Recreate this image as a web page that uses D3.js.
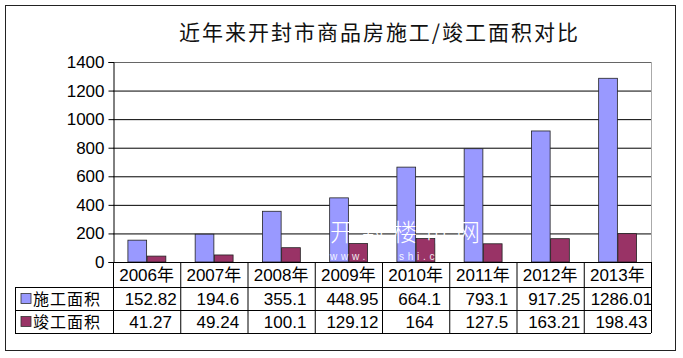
<!DOCTYPE html>
<html><head><meta charset="utf-8">
<script src="https://cdn.jsdelivr.net/npm/d3@7"></script>
<style>
html,body{margin:0;padding:0;background:#fff;}
svg{display:block;}
text{font-family:"Liberation Sans",Arial,"Noto Sans CJK SC",sans-serif;}
</style></head>
<body>
<script>
const title = "近年来开封市商品房施工/竣工面积对比";
const categories = ["2006年","2007年","2008年","2009年","2010年","2011年","2012年","2013年"];
const seriesNames = ["施工面积","竣工面积"];
const construction = [152.82,194.6,355.1,448.95,664.1,793.1,917.25,1286.01];
const completion = [41.27,49.24,100.1,129.12,164,127.5,163.21,198.43];
const constructionLabels = ["152.82","194.6","355.1","448.95","664.1","793.1","917.25","1286.01"];
const completionLabels = ["41.27","49.24","100.1","129.12","164","127.5","163.21","198.43"];
const yTicks = [0,200,400,600,800,1000,1200,1400];
const colors = ["#9999FF","#993366"];

const W = 683, H = 358;
const svg = d3.select("body").append("svg").attr("width", W).attr("height", H);

const plot = {left:113, right:651, top:62, bottom:262};
const x = d3.scaleBand().domain(categories).range([plot.left, plot.right]).paddingInner(0).paddingOuter(0);
const y = d3.scaleLinear().domain([0,1400]).range([plot.bottom, plot.top]);
const xs = d3.scaleBand().domain(seriesNames).range([0, x.bandwidth()]).paddingInner(0).paddingOuter(0.75);

// outer border
svg.append("rect").attr("x",5.5).attr("y",5.5).attr("width",670).attr("height",345)
  .attr("fill","none").attr("stroke","#222").attr("stroke-width",1);

// title
svg.append("text").attr("x",179).attr("y",40).attr("textLength",399).attr("lengthAdjust","spacing")
  .style("font-family","'Noto Sans CJK SC',sans-serif").style("font-size","21px").attr("fill","#111")
  .text(title);

// plot border right
svg.append("line").attr("x1",plot.right+0.5).attr("x2",plot.right+0.5).attr("y1",plot.top).attr("y2",plot.bottom)
  .attr("stroke","#aaa");
// gridlines
const grid = svg.append("g").attr("transform",`translate(${plot.left},0)`)
  .call(d3.axisLeft(y).tickValues(yTicks.slice(1)).tickSize(-(plot.right-plot.left)).tickFormat(""));
grid.select(".domain").remove();
grid.selectAll(".tick line").attr("stroke", d => d===1400 ? "#666" : "#000").attr("stroke-width",1);

// bars
const data = categories.map((c,i)=>({c, vals:[construction[i], completion[i]]}));
const groups = svg.append("g").selectAll("g").data(data).join("g")
  .attr("transform", d=>`translate(${x(d.c)},0)`);
groups.selectAll("rect").data(d=>d.vals.map((v,j)=>({v, s:seriesNames[j], j}))).join("rect")
  .attr("x", d=>xs(d.s)+0.5).attr("width", xs.bandwidth()-0.5)
  .attr("y", d=>y(d.v)).attr("height", d=>y(0)-y(d.v))
  .attr("fill", d=>colors[d.j]).attr("stroke","#222").attr("stroke-width",0.8);

// y axis
const yAxis = svg.append("g").attr("transform",`translate(${plot.left+0.5},0)`)
  .call(d3.axisLeft(y).tickValues(yTicks).tickSize(5).tickPadding(4).tickFormat(d3.format("d")));
yAxis.select(".domain").attr("stroke","#000");
yAxis.selectAll(".tick line").attr("stroke","#000");
yAxis.selectAll(".tick text").style("font-size","17px").attr("fill","#000");
svg.append("line").attr("x1",plot.left).attr("x2",plot.right).attr("y1",plot.bottom+0.5).attr("y2",plot.bottom+0.5).attr("stroke","#000");

// watermark
const wm = svg.append("g").attr("pointer-events","none");
wm.append("text").attr("x",330).attr("y",241).attr("textLength",150).attr("lengthAdjust","spacing")
  .style("font-family","'Noto Sans CJK SC',sans-serif").style("font-size","24px").style("font-weight","300")
  .attr("fill","#fff").text("开封楼市网");
wm.append("text").attr("x",330).attr("y",260).attr("textLength",126).attr("lengthAdjust","spacing")
  .style("font-size","10px").attr("fill","#fff").attr("opacity",0.9).text("www.kflsshi.com");

// data table
const rows = [262, 287, 310, 333];
const tbl = svg.append("g");
tbl.append("line").attr("x1",plot.left).attr("x2",plot.right).attr("y1",rows[0]+0.5).attr("y2",rows[0]+0.5).attr("stroke","#000");
[rows[1],rows[2],rows[3]].forEach(r=>{
  tbl.append("line").attr("x1",15).attr("x2",plot.right).attr("y1",r+0.5).attr("y2",r+0.5).attr("stroke","#000");
});
const vx = categories.map(c=>x(c)).concat([plot.right]);
vx.forEach(v=>{
  tbl.append("line").attr("x1",v+0.5).attr("x2",v+0.5).attr("y1",rows[0]).attr("y2",rows[3]).attr("stroke","#000");
});
tbl.append("line").attr("x1",15.5).attr("x2",15.5).attr("y1",rows[1]).attr("y2",rows[3]).attr("stroke","#000");

tbl.selectAll("text.cat").data(categories).join("text").attr("class","cat")
  .attr("x", d=>x(d)+x.bandwidth()/2).attr("y",281).attr("text-anchor","middle")
  .style("font-size","17px").attr("fill","#000").text(d=>d);
[constructionLabels, completionLabels].forEach((labels,k)=>{
  tbl.selectAll("text.v"+k).data(labels).join("text").attr("class","v"+k)
    .attr("x",(d,i)=>x(categories[i])+x.bandwidth()/2+4).attr("y", k===0?305:328).attr("text-anchor","middle")
    .style("font-size","17px").attr("fill","#000").text(d=>d);
});
seriesNames.forEach((s,k)=>{
  const yy = k===0 ? 293 : 316;
  tbl.append("rect").attr("x",21).attr("y",yy+0.5).attr("width",10).attr("height",10)
    .attr("fill",colors[k]).attr("stroke","#333").attr("stroke-width",0.8);
  tbl.append("text").attr("x",33).attr("y",yy+12).style("font-family","'Noto Sans CJK SC',sans-serif")
    .style("font-size","16px").attr("textLength",67).attr("lengthAdjust","spacing").attr("fill","#000").text(s);
});
</script>
</body></html>
